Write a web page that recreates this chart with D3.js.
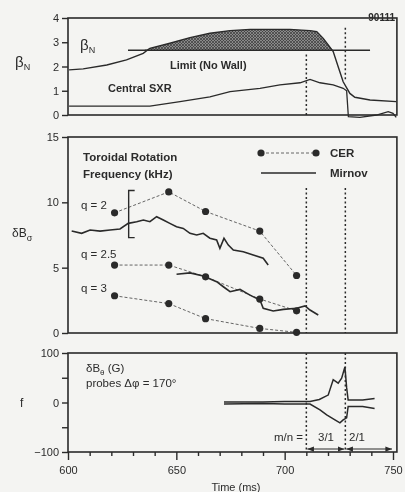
<!DOCTYPE html>
<html>
<head>
<meta charset="utf-8">
<script src="https://cdn.jsdelivr.net/npm/d3@7"></script>
<style>
  body { margin: 0; background: #f4f4f2; }
  svg { display: block; filter: blur(0.55px); }
  text { font-family: "Liberation Sans", Arial, sans-serif; fill: #2b2b2b; }
</style>
</head>
<body>
<div id="app"></div>
<script>
(function (d3) {
  'use strict'

  // ---- data ----
  const shotLabel = '90111'
  const markerTimes = [710, 728]

  // top panel: beta_N, limit, central SXR
  const betaTimes = [600.5, 607, 617.9, 627, 634.7, 637.8, 647, 656.3, 665.5, 674.8, 684, 702.4, 711.7, 714.8, 717.8, 720.1, 722.4, 724.7, 727, 730.1, 732.4, 739.4, 751.5]
  const betaValues = [1.86, 1.9, 2.06, 2.27, 2.54, 2.75, 2.96, 3.19, 3.37, 3.48, 3.53, 3.53, 3.48, 3.44, 3.16, 2.89, 2.62, 1.99, 1.37, 0.89, 0.73, 0.62, 0.55]
  const limitValue = 2.67
  const limitTimes = [627.7, 739.4]
  const sxrTimes = [600.5, 637.8, 651.7, 665.5, 674.8, 688.6, 697.8, 707.1, 711.7, 716.3, 722.4, 727, 728.6, 729.4, 734.7, 742.4, 747.8, 750, 751.5]
  const sxrValues = [0.37, 0.37, 0.55, 0.75, 0.96, 1.1, 1.24, 1.33, 1.47, 1.33, 1.24, 1.1, 1.0, -0.07, -0.1, 0, 0.14, 0.07, -0.1]

  // middle panel: CER points and Mirnov traces
  const cerTimes = [621.5, 646.5, 663.5, 688.5, 705.5]
  const cerQ2 = [9.2, 10.8, 9.3, 7.8, 4.4]
  const cerQ25 = [5.2, 5.2, 4.3, 2.6, 1.7]
  const cerQ3 = [2.85, 2.25, 1.1, 0.35, 0.05]
  const mirQ2Times = [601.7, 606.3, 610.2, 614.8, 619.4, 624, 627.8, 631.7, 634.8, 637.8, 640.9, 644, 647, 650.1, 653.2, 656.3, 659.4, 662.4, 665.5, 668.6, 670.1, 672, 674, 676.3, 680.9, 685.5, 690.1, 692.4]
  const mirQ2Values = [7.8, 7.63, 7.88, 7.8, 7.88, 7.96, 8.39, 8.52, 8.65, 8.52, 8.9, 8.65, 8.39, 8.13, 8.0, 7.63, 7.5, 7.63, 7.25, 7.12, 6.48, 7.25, 6.73, 6.35, 6.22, 5.97, 5.72, 5.2]
  const mirQ25Times = [650.1, 656.3, 662.4, 668.6, 671.7, 674.8, 679.4, 684, 688.6, 690.1, 694.7, 699.4, 705.5, 709.4, 711.7, 715.5]
  const mirQ25Values = [4.5, 4.6, 4.36, 3.93, 3.54, 3.16, 3.34, 2.9, 2.52, 1.89, 1.68, 1.81, 1.89, 2.07, 1.76, 1.38]
  const errTime = 628
  const errRange = [7.3, 10.9]

  // bottom panel: dB_theta envelope
  const upperTimes = [672, 690, 700, 711.7, 716, 718.6, 720.1, 720.9, 722.4, 724.7, 726.3, 727.8, 728.6, 729.3, 736, 741.5]
  const upperValues = [1, 1, 2, 2, 6, 12, 15, 26, 46, 39, 49, 72, 30, 5, 5, 8]
  const lowerTimes = [672, 690, 700, 711.7, 716.3, 719.4, 723.2, 725.5, 727, 728.6, 729.3, 736, 741.5]
  const lowerValues = [-3, -2, -3, -3, -15, -25, -35, -41, -35, -31, -8, -8, -12]

  const topTicks = [0, 1, 2, 3, 4]
  const midTicks = [0, 5, 10, 15]
  const botTicks = [-100, -50, 0, 50, 100]
  const botTickLabels = { '-100': '\u2212100', '0': '0', '100': '100' }
  const xMajor = [600, 650, 700, 750]
  const xMinor = [610, 620, 630, 640, 660, 670, 680, 690, 710, 720, 730, 740]

  const w = 405
  const h = 492
  const ink = '#2a2a2a'

  const svg = d3.select('#app').append('svg')
    .attr('width', w)
    .attr('height', h)

  const x = d3.scaleLinear().domain([600, 750]).range([68, 393])
  const yTop = d3.scaleLinear().domain([0, 4]).range([115, 18])
  const yMid = d3.scaleLinear().domain([0, 15]).range([333, 137])
  const yBot = d3.scaleLinear().domain([-100, 100]).range([452, 353])
  const xRight = x(751.8)

  const zip = (ts, vs) => ts.map((t, i) => [t, vs[i]])

  // hatch pattern for beta_N above the limit
  const defs = svg.append('defs')
  const pat = defs.append('pattern')
    .attr('id', 'hatch')
    .attr('width', 3).attr('height', 3)
    .attr('patternUnits', 'userSpaceOnUse')
  pat.append('rect').attr('width', 3).attr('height', 3).attr('fill', '#8a8a8a')
  pat.append('path').attr('d', 'M0,3 L3,0 M0,0 L3,3').attr('stroke', '#3a3a3a').attr('stroke-width', 0.7)

  // arrow markers
  defs.append('marker').attr('id', 'arrEnd')
    .attr('viewBox', '0 0 10 10').attr('refX', 10).attr('refY', 5)
    .attr('markerWidth', 6).attr('markerHeight', 6).attr('orient', 'auto')
    .append('path').attr('d', 'M0,1 L10,5 L0,9 z').attr('fill', ink)
  defs.append('marker').attr('id', 'arrStart')
    .attr('viewBox', '0 0 10 10').attr('refX', 0).attr('refY', 5)
    .attr('markerWidth', 6).attr('markerHeight', 6).attr('orient', 'auto')
    .append('path').attr('d', 'M10,1 L0,5 L10,9 z').attr('fill', ink)

  const frame = function (yScale, top, bottom) {
    svg.append('rect')
      .attr('x', x(600)).attr('y', yScale(top))
      .attr('width', xRight - x(600))
      .attr('height', yScale(bottom) - yScale(top))
      .attr('fill', 'none').attr('stroke', ink).attr('stroke-width', 1.6)
  }

  const leftAxis = function (yScale, ticks, fmt) {
    const g = svg.append('g')
      .attr('transform', `translate(${x(600)},0)`)
      .call(d3.axisLeft(yScale).tickValues(ticks).tickSize(6).tickPadding(3).tickFormat(fmt))
    g.select('.domain').remove()
    g.selectAll('line').attr('stroke', ink).attr('stroke-width', 1.4)
    g.selectAll('text').attr('font-size', 11).attr('fill', ink)
      .style('font-family', '"Liberation Sans", Arial, sans-serif')
    return g
  }

  const line = d3.line().x(d => x(d[0]))

  // ---------- top panel ----------
  const betaPts = zip(betaTimes, betaValues)
  const hatchPts = betaPts.filter(d => d[0] >= 634 && d[0] <= 723.5)
  svg.append('path')
    .datum(hatchPts)
    .attr('d', d3.area().x(d => x(d[0])).y0(yTop(limitValue)).y1(d => yTop(Math.max(d[1], limitValue))))
    .attr('fill', 'url(#hatch)')

  svg.append('line')
    .attr('x1', x(limitTimes[0])).attr('x2', x(limitTimes[1]))
    .attr('y1', yTop(limitValue)).attr('y2', yTop(limitValue))
    .attr('stroke', ink).attr('stroke-width', 1.4)

  svg.append('path').datum(betaPts)
    .attr('d', line.y(d => yTop(d[1])))
    .attr('fill', 'none').attr('stroke', ink).attr('stroke-width', 1.4)

  svg.append('path').datum(zip(sxrTimes, sxrValues))
    .attr('d', line.y(d => yTop(d[1])))
    .attr('fill', 'none').attr('stroke', ink).attr('stroke-width', 1.3)

  // dotted time markers, top panel
  svg.append('line').attr('x1', x(markerTimes[0])).attr('x2', x(markerTimes[0]))
    .attr('y1', yTop(2.5)).attr('y2', yTop(0))
    .attr('stroke', ink).attr('stroke-width', 1.5).attr('stroke-dasharray', '2,2.5')
  svg.append('line').attr('x1', x(markerTimes[1])).attr('x2', x(markerTimes[1]))
    .attr('y1', yTop(3.6)).attr('y2', yTop(1.4))
    .attr('stroke', ink).attr('stroke-width', 1.5).attr('stroke-dasharray', '2,2.5')

  frame(yTop, 4, 0)
  leftAxis(yTop, topTicks, d3.format('d'))

  svg.append('text').attr('x', 80).attr('y', 50).attr('font-size', 15)
    .text('\u03b2').append('tspan').attr('font-size', 9).attr('dy', 3).text('N')
  svg.append('text').attr('x', 15).attr('y', 67).attr('font-size', 15)
    .text('\u03b2').append('tspan').attr('font-size', 9).attr('dy', 3).text('N')
  svg.append('text').attr('x', 170).attr('y', 69).attr('font-size', 11).attr('font-weight', 'bold').text('Limit (No Wall)')
  svg.append('text').attr('x', 108).attr('y', 92).attr('font-size', 11).attr('font-weight', 'bold').text('Central SXR')
  svg.append('text').attr('x', 395).attr('y', 21).attr('font-size', 10).attr('text-anchor', 'end')
    .attr('font-weight', 'bold').text(shotLabel)

  // ---------- middle panel ----------
  const cerSeries = [cerQ2, cerQ25, cerQ3]
  cerSeries.forEach(function (vals) {
    const pts = zip(cerTimes, vals)
    svg.append('path').datum(pts)
      .attr('d', line.y(d => yMid(d[1])))
      .attr('fill', 'none').attr('stroke', '#555').attr('stroke-width', 0.9)
      .attr('stroke-dasharray', '3,2')
    svg.append('g').selectAll('circle').data(pts).enter().append('circle')
      .attr('cx', d => x(d[0])).attr('cy', d => yMid(d[1])).attr('r', 3.6)
      .attr('fill', ink)
  })

  const mirnov = [zip(mirQ2Times, mirQ2Values), zip(mirQ25Times, mirQ25Values)]
  mirnov.forEach(function (pts) {
    svg.append('path').datum(pts)
      .attr('d', line.y(d => yMid(d[1])))
      .attr('fill', 'none').attr('stroke', ink).attr('stroke-width', 1.6)
  })

  // error bracket
  const ex = x(errTime)
  svg.append('path')
    .attr('d', `M${ex + 6},${yMid(errRange[1])} H${ex} V${yMid(errRange[0])} H${ex + 6}`)
    .attr('fill', 'none').attr('stroke', ink).attr('stroke-width', 1.4)

  markerTimes.forEach(function (t) {
    svg.append('line').attr('x1', x(t)).attr('x2', x(t))
      .attr('y1', yMid(11.1)).attr('y2', yMid(0))
      .attr('stroke', ink).attr('stroke-width', 1.5).attr('stroke-dasharray', '2,2.5')
  })

  frame(yMid, 15, 0)
  leftAxis(yMid, midTicks, d3.format('d'))

  svg.append('text').attr('x', 83).attr('y', 161).attr('font-size', 11.5).attr('font-weight', 'bold').text('Toroidal Rotation')
  svg.append('text').attr('x', 83).attr('y', 178).attr('font-size', 11.5).attr('font-weight', 'bold').text('Frequency (kHz)')
  svg.append('text').attr('x', 81).attr('y', 209).attr('font-size', 11.5).text('q = 2')
  svg.append('text').attr('x', 81).attr('y', 258).attr('font-size', 11.5).text('q = 2.5')
  svg.append('text').attr('x', 81).attr('y', 292).attr('font-size', 11.5).text('q = 3')

  // legend
  const legY1 = 153
  const legY2 = 173
  svg.append('line').attr('x1', 261).attr('x2', 316).attr('y1', legY1).attr('y2', legY1)
    .attr('stroke', '#555').attr('stroke-width', 0.9).attr('stroke-dasharray', '3,2')
  svg.append('g').selectAll('circle').data([261, 316]).enter().append('circle')
    .attr('cx', d => d).attr('cy', legY1).attr('r', 3.6).attr('fill', ink)
  svg.append('line').attr('x1', 261).attr('x2', 316).attr('y1', legY2).attr('y2', legY2)
    .attr('stroke', ink).attr('stroke-width', 1.6)
  svg.append('text').attr('x', 330).attr('y', legY1 + 4).attr('font-size', 11.5).attr('font-weight', 'bold').text('CER')
  svg.append('text').attr('x', 330).attr('y', legY2 + 4).attr('font-size', 11.5).attr('font-weight', 'bold').text('Mirnov')

  const dbLabel = svg.append('text').attr('x', 12).attr('y', 237).attr('font-size', 12)
  dbLabel.append('tspan').text('\u03b4B')
  dbLabel.append('tspan').attr('font-size', 9).attr('dy', 4).text('\u03c3')

  // ---------- bottom panel ----------
  const upPts = zip(upperTimes, upperValues)
  const loPts = zip(lowerTimes, lowerValues)
  const blob = upPts.filter(d => d[0] >= 709 && d[0] <= 719)
    .concat(loPts.filter(d => d[0] >= 709 && d[0] <= 719).reverse())
  svg.append('path').datum(blob)
    .attr('d', line.y(d => yBot(d[1])) + 'Z')
    .attr('fill', ink)
  ;[upPts, loPts].forEach(function (pts) {
    svg.append('path').datum(pts)
      .attr('d', line.y(d => yBot(d[1])))
      .attr('fill', 'none').attr('stroke', ink).attr('stroke-width', 1.5)
  })

  markerTimes.forEach(function (t) {
    svg.append('line').attr('x1', x(t)).attr('x2', x(t))
      .attr('y1', yBot(100)).attr('y2', yBot(-100))
      .attr('stroke', ink).attr('stroke-width', 1.5).attr('stroke-dasharray', '2,2.5')
  })

  frame(yBot, 100, -100)
  leftAxis(yBot, botTicks, d => botTickLabels[d] || '')

  // x axis
  const gMinor = svg.append('g').attr('transform', `translate(0,${yBot(-100)})`)
    .call(d3.axisBottom(x).tickValues(xMinor).tickSize(4).tickFormat(''))
  gMinor.select('.domain').remove()
  gMinor.selectAll('line').attr('stroke', ink).attr('stroke-width', 1.4)
  const gMajor = svg.append('g').attr('transform', `translate(0,${yBot(-100)})`)
    .call(d3.axisBottom(x).tickValues(xMajor).tickSize(8).tickPadding(6).tickFormat(d3.format('d')))
  gMajor.select('.domain').remove()
  gMajor.selectAll('line').attr('stroke', ink).attr('stroke-width', 1.4)
  gMajor.selectAll('text').attr('font-size', 11).attr('fill', ink)
    .style('font-family', '"Liberation Sans", Arial, sans-serif')

  svg.append('text').attr('x', 236).attr('y', 491).attr('font-size', 11).attr('text-anchor', 'middle').text('Time (ms)')

  const bl = svg.append('text').attr('x', 86).attr('y', 372).attr('font-size', 11.5)
  bl.append('tspan').text('\u03b4B')
  bl.append('tspan').attr('font-size', 8).attr('dy', 3).text('\u03b8')
  bl.append('tspan').attr('dy', -3).text(' (G)')
  svg.append('text').attr('x', 86).attr('y', 387).attr('font-size', 11.5).text('probes \u0394\u03c6 = 170\u00b0')
  svg.append('text').attr('x', 20).attr('y', 407).attr('font-size', 12).text('f')

  svg.append('text').attr('x', 303).attr('y', 441).attr('font-size', 11.5).attr('text-anchor', 'end').text('m/n =')
  svg.append('text').attr('x', 318).attr('y', 441).attr('font-size', 11.5).text('3/1')
  svg.append('text').attr('x', 349).attr('y', 441).attr('font-size', 11.5).text('2/1')

  const arrowSpans = [[710, 728], [728, 750]]
  arrowSpans.forEach(function (s) {
    svg.append('line')
      .attr('x1', x(s[0]) + 1).attr('x2', x(s[1]) - 1)
      .attr('y1', yBot(-94)).attr('y2', yBot(-94))
      .attr('stroke', ink).attr('stroke-width', 1.1)
      .attr('marker-start', 'url(#arrStart)').attr('marker-end', 'url(#arrEnd)')
  })

}(d3))
</script>
</body>
</html>
